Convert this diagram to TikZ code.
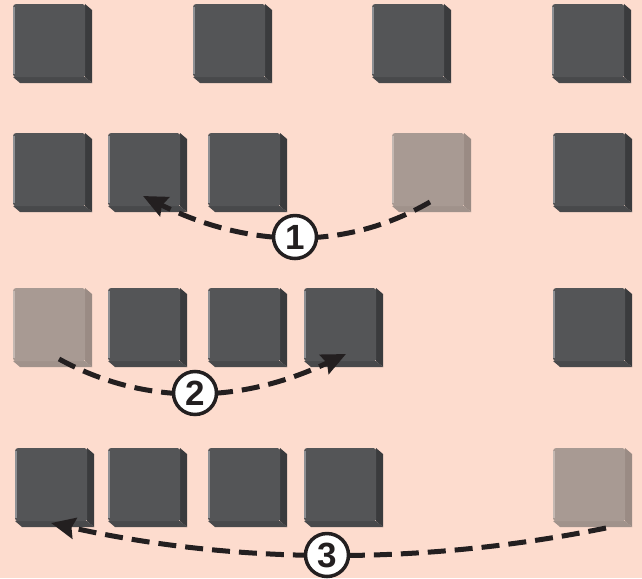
\documentclass[tikz,border=0pt]{standalone}
\usepackage{fontspec}
\setsansfont{Liberation Sans}
\usetikzlibrary{arrows.meta}
\definecolor{bg}{HTML}{FDDCCE}
\definecolor{dkface}{HTML}{545557}
\definecolor{dkside}{HTML}{3A3B3D}
\definecolor{dkbot}{HTML}{48494B}
\definecolor{dkhl}{HTML}{8E9094}
\definecolor{ltface}{HTML}{A89A93}
\definecolor{ltside}{HTML}{9A8B84}
\definecolor{ltbot}{HTML}{A0928B}
\definecolor{lthl}{HTML}{C4B8B2}
\definecolor{ink}{HTML}{231F20}
\tikzset{
  cubeface/.style={rectangle, inner sep=0pt, minimum width=72pt, minimum height=73pt,
    anchor=north west, rounded corners=2.5pt},
  move/.style={draw=ink, line width=5pt, dash pattern=on 18pt off 9pt,
    -{Stealth[length=24pt,width=21pt,inset=3pt]}},
  numcirc/.style={circle, draw=ink, fill=white, line width=3.5pt, minimum size=43pt,
    inner sep=0pt, font=\sffamily\bfseries\fontsize{35}{35}\selectfont, text=ink}
}
% name, x, y, colour prefix (dk / lt)
\newcommand\cubeat[4]{%
  \fill[#4side] (#2+72,#3) -- ++(7,6) -- ++(0,73) -- (#2+72,#3+73) -- cycle;
  \fill[#4bot] (#2,#3+73) -- ++(7,6) -- ++(72,0) -- (#2+72,#3+73) -- cycle;
  \node[cubeface, fill=#4face] (#1) at (#2,#3) {};
  \draw[#4hl, line width=1.6pt] ([xshift=0.9pt,yshift=-3pt]#1.north west) -- ([xshift=0.9pt,yshift=3pt]#1.south west);
}
\begin{document}
\begin{tikzpicture}[x=1pt,y=-1pt]
\fill[bg] (0,0) rectangle (642,578);
\useasboundingbox (0,0) rectangle (642,578);
% row 1
\cubeat{a1}{13}{4}{dk}
\cubeat{a2}{193}{4}{dk}
\cubeat{a3}{372}{4}{dk}
\cubeat{a4}{552}{4}{dk}
% row 2
\cubeat{b1}{13}{133}{dk}
\cubeat{b2}{108}{133}{dk}
\cubeat{b3}{208}{133}{dk}
\cubeat{b4}{392}{133}{lt}
\cubeat{b5}{553}{133}{dk}
% row 3
\cubeat{c1}{13}{288}{lt}
\cubeat{c2}{108}{288}{dk}
\cubeat{c3}{208}{288}{dk}
\cubeat{c4}{304}{288}{dk}
\cubeat{c5}{553}{288}{dk}
% row 4
\cubeat{d1}{15}{448}{dk}
\cubeat{d2}{108}{448}{dk}
\cubeat{d3}{208}{448}{dk}
\cubeat{d4}{304}{448}{dk}
\cubeat{d5}{553}{448}{lt}
% arrow end points
\coordinate (s1) at (430,202);
\coordinate (e1) at (143,196);
\coordinate (s2) at (59,359);
\coordinate (e2) at (346,354);
\coordinate (s3) at (606,528);
\coordinate (e3) at (51,523);
% moves
\draw[move] (s1) .. controls (345.7,250.7) and (250,248.7) .. (e1) node[numcirc,pos=0.5,solid] (n1) {1};
\draw[move] (s2) .. controls (144.7,406) and (240.3,404.3) .. (e2) node[numcirc,pos=0.5,solid] (n2) {2};
\draw[move] (s3) .. controls (419,565.7) and (234,564) .. (e3) node[numcirc,pos=0.5,solid] (n3) {3};
\end{tikzpicture}
\end{document}
